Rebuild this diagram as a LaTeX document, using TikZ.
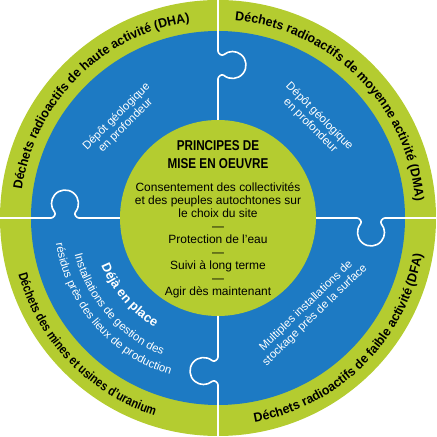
\documentclass[tikz,border=0pt]{standalone}
\usepackage{fontspec}
\setmainfont{Liberation Sans}
\newfontfamily\condfont[FakeStretch=0.82]{Liberation Sans}
\newfontfamily\widefont[FakeStretch=0.96]{Liberation Sans}
\newfontfamily\narrowfont[FakeStretch=0.84]{Liberation Sans}
\usepackage{tikz}
\usetikzlibrary{decorations.text}
\usetikzlibrary{positioning}
\definecolor{ringgreen}{HTML}{B4CC30}
\definecolor{ringblue}{HTML}{1D7AC3}
\newcommand{\outerfont}{\widefont\bfseries\fontsize{13pt}{15pt}\selectfont}
\newcommand{\outernarrow}{\narrowfont\bfseries\fontsize{13pt}{15pt}\selectfont}
\newcommand{\bluefont}{\fontsize{11.5pt}{12.8pt}\selectfont}
\tikzset{
    font={\fontsize{12pt}{13pt}\selectfont},
    seam/.style={
           draw=white,
           line width=1.6bp,
           line join=round,
           },
    ringlabel/.style={decorate, decoration={text along path, text align=center, text={#1}}},
    bluelabel/.style={decorate, decoration={text along path, text align=center, text color=white, text={#1}}},
    bluebox/.style={
           text=white,
           align=center,
           font=\bluefont,
           inner sep=0pt,
           },
}

\begin{document}
\begin{tikzpicture}[x=1bp,y=1bp]
\useasboundingbox (-218,-219) rectangle (219,218);

% rings
\fill[ringgreen] (0,0) circle[radius=218bp];
\fill[ringblue] (0,0) circle[radius=187bp];
\fill[ringgreen] (0,0) circle[radius=98bp];

% puzzle seams
\foreach \a in {90,0,-90,180}
  \draw[seam, rotate=\a] (98,0) -- (139,0) to[out=0,in=50] (142.66,-5.82)
     arc[start angle=140, end angle=400, radius=13.5bp] to[out=130,in=180] (167,0) -- (219,0);

% outer ring: waste classes
\path[ringlabel={|\outerfont|Déchets radioactifs de haute activité (DHA)}] (180:198bp) arc[start angle=180, end angle=90, radius=198bp];
\path[ringlabel={|\outerfont|Déchets radioactifs de moyenne activité (DMA)}] (90:198bp) arc[start angle=90, end angle=0, radius=198bp];
\path[ringlabel={|\outernarrow|Déchets des mines et usines d’uranium}] (178:207.5bp) arc[start angle=178, end angle=270, radius=207.5bp];
\path[ringlabel={|\outerfont|Déchets radioactifs de faible activité (DFA)}] (270:207.5bp) arc[start angle=270, end angle=360, radius=207.5bp];

% blue ring: storage
\node[bluebox, rotate=45] (DHADEPOT) at (135:137bp) {Dépôt géologique\\en profondeur};
\node[bluebox, rotate=-45] (DMADEPOT) at (45:137bp) {Dépôt géologique\\en profondeur};
\node[bluebox, rotate=44] (DFASTOCK) at (-45:131bp) {Multiples installations de\\stockage près de la surface};

\path[bluelabel={|\fontsize{13pt}{15pt}\selectfont\bfseries|Déjà en place}] (180:126bp) arc[start angle=180, end angle=262, radius=126bp];
\path[bluelabel={|\bluefont|Installations de gestion des}] (180:148bp) arc[start angle=180, end angle=262, radius=148bp];
\path[bluelabel={|\bluefont|résidus près des lieux de production}] (180:164bp) arc[start angle=180, end angle=262, radius=164bp];

% centre
\node[font=\condfont\bfseries\fontsize{14.3pt}{18pt}\selectfont, align=center] (PRINCIPES) at (0,63) {PRINCIPES DE\\MISE EN OEUVRE};
\node[align=center, below=7bp of PRINCIPES] (CONDITIONS) {Consentement des collectivités\\et des peuples autochtones sur\\le choix du site\\—\\Protection de l’eau\\—\\Suivi à long terme\\—\\Agir dès maintenant};

\end{tikzpicture}
\end{document}
